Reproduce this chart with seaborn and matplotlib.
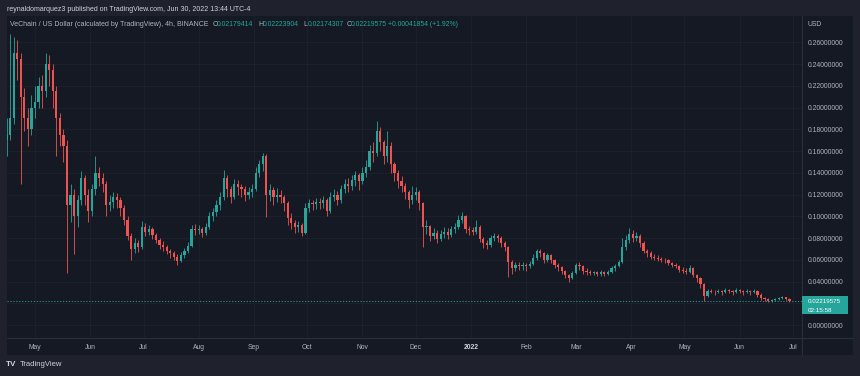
import numpy as np
import pandas as pd
import matplotlib
matplotlib.use("Agg")
import matplotlib.pyplot as plt
import matplotlib.dates as mdates
from matplotlib.patches import Rectangle
from matplotlib.lines import Line2D
import seaborn as sns

# ---------------- data (2-day candles) ----------------
start_date = "2021-04-15"
step_days = 2
first_open = 0.17
closes = [
    0.175, 0.19, 0.25, 0.245, 0.21, 0.19, 0.18, 0.2, 0.205, 0.22,
    0.215, 0.24, 0.235, 0.215, 0.19, 0.175, 0.165, 0.11, 0.12, 0.1,
    0.115, 0.135, 0.12, 0.105, 0.125, 0.14, 0.135, 0.13, 0.11, 0.113,
    0.118, 0.115, 0.108, 0.097, 0.082, 0.07, 0.075, 0.072, 0.09, 0.086,
    0.088, 0.083, 0.078, 0.074, 0.072, 0.068, 0.066, 0.063, 0.059, 0.064,
    0.068, 0.073, 0.088, 0.087, 0.088, 0.085, 0.09, 0.1, 0.104, 0.11,
    0.118, 0.135, 0.125, 0.118, 0.13, 0.127, 0.125, 0.12, 0.122, 0.125,
    0.14, 0.148, 0.155, 0.12, 0.124, 0.118, 0.12, 0.118, 0.112, 0.098,
    0.094, 0.09, 0.092, 0.085, 0.108, 0.112, 0.111, 0.113, 0.112, 0.115,
    0.105, 0.118, 0.12, 0.115, 0.125, 0.13, 0.128, 0.133, 0.138, 0.132,
    0.14, 0.145, 0.16, 0.158, 0.178, 0.168, 0.155, 0.165, 0.148, 0.14,
    0.132, 0.128, 0.122, 0.115, 0.12, 0.122, 0.112, 0.09, 0.091, 0.082,
    0.085, 0.079, 0.084, 0.086, 0.083, 0.088, 0.09, 0.097, 0.1, 0.088,
    0.087, 0.086, 0.09, 0.079, 0.075, 0.074, 0.08, 0.082, 0.08, 0.075,
    0.072, 0.058, 0.052, 0.055, 0.054, 0.055, 0.054, 0.056, 0.062, 0.068,
    0.066, 0.06, 0.064, 0.06, 0.055, 0.053, 0.05, 0.046, 0.043, 0.048,
    0.055, 0.054, 0.05, 0.049, 0.048, 0.0485, 0.047, 0.049, 0.047, 0.049,
    0.052, 0.054, 0.058, 0.072, 0.078, 0.084, 0.08, 0.082, 0.075, 0.068,
    0.066, 0.063, 0.062, 0.061, 0.06, 0.0595, 0.057, 0.055, 0.054, 0.051,
    0.05, 0.049, 0.052, 0.046, 0.043, 0.038, 0.027, 0.031, 0.0305, 0.03,
    0.031, 0.03, 0.032, 0.031, 0.03, 0.032, 0.031, 0.03, 0.031, 0.03,
    0.031, 0.028, 0.025, 0.024, 0.022, 0.023, 0.024, 0.025, 0.0255, 0.024,
    0.0222,
]
highs = [
    0.19, 0.268, 0.265, 0.262, 0.25, 0.218, 0.2, 0.212, 0.22, 0.228,
    0.23, 0.25, 0.248, 0.24, 0.22, 0.195, 0.18, 0.17, 0.13, 0.125,
    0.12, 0.142, 0.138, 0.125, 0.13, 0.155, 0.145, 0.14, 0.132, 0.12,
    0.122, 0.121, 0.118, 0.11, 0.1, 0.085, 0.08, 0.078, 0.096, 0.094,
    0.092, 0.09, 0.085, 0.08, 0.077, 0.074, 0.07, 0.068, 0.065, 0.067,
    0.071, 0.076, 0.092, 0.093, 0.092, 0.09, 0.094, 0.104, 0.108, 0.115,
    0.122, 0.143, 0.138, 0.128, 0.134, 0.133, 0.13, 0.128, 0.127, 0.13,
    0.145, 0.152, 0.158, 0.157, 0.13, 0.127, 0.126, 0.124, 0.12, 0.114,
    0.103, 0.097, 0.096, 0.094, 0.112, 0.116, 0.115, 0.117, 0.117, 0.119,
    0.117, 0.122, 0.125, 0.123, 0.129, 0.134, 0.135, 0.138, 0.142, 0.14,
    0.145, 0.152, 0.166, 0.168, 0.188, 0.182, 0.17, 0.178, 0.168, 0.15,
    0.143, 0.137, 0.131, 0.124, 0.128, 0.127, 0.124, 0.113, 0.097, 0.092,
    0.089, 0.087, 0.087, 0.09, 0.089, 0.091, 0.094, 0.101, 0.104, 0.101,
    0.091, 0.09, 0.097, 0.092, 0.081, 0.078, 0.083, 0.085, 0.084, 0.082,
    0.077, 0.073, 0.06, 0.058, 0.058, 0.058, 0.057, 0.059, 0.065, 0.07,
    0.07, 0.067, 0.066, 0.065, 0.061, 0.057, 0.054, 0.051, 0.047, 0.05,
    0.057, 0.058, 0.055, 0.052, 0.051, 0.05, 0.05, 0.051, 0.05, 0.051,
    0.054, 0.056, 0.06, 0.08, 0.083, 0.089, 0.087, 0.086, 0.084, 0.077,
    0.07, 0.068, 0.065, 0.064, 0.063, 0.062, 0.061, 0.058, 0.057, 0.055,
    0.053, 0.052, 0.055, 0.053, 0.047, 0.044, 0.039, 0.033, 0.033, 0.032,
    0.033, 0.032, 0.034, 0.033, 0.032, 0.034, 0.033, 0.032, 0.033, 0.032,
    0.033, 0.032, 0.029, 0.026, 0.025, 0.024, 0.025, 0.026, 0.027, 0.026,
    0.025,
]
lows = [
    0.155, 0.17, 0.185, 0.225, 0.13, 0.178, 0.165, 0.175, 0.19, 0.2,
    0.2, 0.21, 0.22, 0.2, 0.155, 0.165, 0.15, 0.048, 0.095, 0.065,
    0.09, 0.11, 0.11, 0.095, 0.1, 0.12, 0.128, 0.122, 0.1, 0.105,
    0.108, 0.108, 0.1, 0.092, 0.078, 0.06, 0.066, 0.067, 0.07, 0.082,
    0.083, 0.079, 0.075, 0.07, 0.068, 0.065, 0.062, 0.06, 0.055, 0.058,
    0.062, 0.066, 0.072, 0.083, 0.084, 0.081, 0.083, 0.088, 0.096, 0.1,
    0.106, 0.115, 0.118, 0.112, 0.116, 0.12, 0.118, 0.114, 0.116, 0.118,
    0.123, 0.136, 0.142, 0.099, 0.114, 0.11, 0.113, 0.112, 0.105, 0.092,
    0.088, 0.085, 0.086, 0.082, 0.084, 0.104, 0.106, 0.107, 0.107, 0.108,
    0.1, 0.103, 0.114, 0.11, 0.112, 0.121, 0.122, 0.124, 0.128, 0.124,
    0.13, 0.136, 0.143, 0.15, 0.155, 0.16, 0.148, 0.15, 0.14, 0.132,
    0.126, 0.122, 0.116, 0.108, 0.111, 0.115, 0.106, 0.072, 0.084, 0.077,
    0.079, 0.075, 0.077, 0.08, 0.079, 0.081, 0.085, 0.088, 0.094, 0.085,
    0.083, 0.083, 0.084, 0.076, 0.071, 0.07, 0.072, 0.077, 0.076, 0.072,
    0.068, 0.044, 0.047, 0.05, 0.051, 0.051, 0.05, 0.052, 0.055, 0.06,
    0.063, 0.057, 0.058, 0.057, 0.052, 0.05, 0.047, 0.043, 0.04, 0.042,
    0.047, 0.051, 0.047, 0.046, 0.046, 0.046, 0.045, 0.045, 0.045, 0.046,
    0.048, 0.05, 0.053, 0.057, 0.069, 0.075, 0.076, 0.077, 0.072, 0.066,
    0.063, 0.061, 0.06, 0.059, 0.058, 0.057, 0.055, 0.053, 0.052, 0.049,
    0.048, 0.047, 0.048, 0.044, 0.04, 0.034, 0.022, 0.026, 0.029, 0.028,
    0.029, 0.028, 0.029, 0.029, 0.028, 0.029, 0.029, 0.028, 0.029, 0.028,
    0.029, 0.026, 0.023, 0.022, 0.021, 0.021, 0.022, 0.023, 0.024, 0.023,
    0.0215,
]

month_ticks = ["2021-05-01", "2021-06-01", "2021-07-01", "2021-08-01", "2021-09-01",
               "2021-10-01", "2021-11-01", "2021-12-01", "2022-01-01", "2022-02-01",
               "2022-03-01", "2022-04-01", "2022-05-01", "2022-06-01", "2022-07-01"]
month_labels = ["May", "Jun", "Jul", "Aug", "Sep", "Oct", "Nov", "Dec", "2022",
                "Feb", "Mar", "Apr", "May", "Jun", "Jul"]
price_ticks = [0.00, 0.02, 0.04, 0.06, 0.08, 0.10, 0.12, 0.14, 0.16, 0.18,
               0.20, 0.22, 0.24, 0.26]
last_price = 0.02219575
countdown = "02:15:58"
header_title = "reynaldomarquez3 published on TradingView.com, Jun 30, 2022 13:44 UTC-4"
symbol_text = "VeChain / US Dollar (calculated by TradingView), 4h, BINANCE"
ohlc_keys = ["O", "H", "L", "C"]
ohlc_values = ["0.02179414", "0.02223904", "0.02174307", "0.02219575"]
change_text = "+0.00041854 (+1.92%)"

# ---------------- style ----------------
BG = "#151924"
OUTER = "#1f222d"
GRID = "#1c202b"
BORDER = "#2a2e39"
TXT = "#b2b5be"
UP = "#26a69a"
DOWN = "#ef5350"

sns.set_theme(style="dark", rc={"axes.facecolor": BG, "figure.facecolor": OUTER})
plt.rcParams["font.family"] = ["Liberation Sans", "DejaVu Sans"]

W, H = 860, 376
fig = plt.figure(figsize=(W / 100, H / 100), dpi=100)
fig.patch.set_facecolor(OUTER)

# dark chart panel (chart + price scale + time scale)
fig.add_artist(Rectangle((7 / W, 1 - 354.5 / H), (853 - 7) / W, (354.5 - 16) / H,
                         transform=fig.transFigure, facecolor=BG, edgecolor="none", zorder=0))

ax_l, ax_r, ax_t, ax_b = 7, 801.5, 16, 338
ax = fig.add_axes([ax_l / W, 1 - ax_b / H, (ax_r - ax_l) / W, (ax_b - ax_t) / H])
ax.set_facecolor(BG)

df = pd.DataFrame({
    "date": pd.date_range(start_date, periods=len(closes), freq=f"{step_days}D"),
    "close": closes, "high": highs, "low": lows,
})
df["open"] = [first_open] + closes[:-1]
df["x"] = mdates.date2num(df["date"])
df["dir"] = np.where(df["close"] >= df["open"], "up", "down")
cols = df["dir"].map({"up": UP, "down": DOWN}).tolist()

ax.vlines(df["x"], df["low"], df["high"], colors=cols, linewidth=0.6, zorder=3)
body_lo = np.minimum(df["open"], df["close"])
body_h = np.maximum(np.abs(df["close"] - df["open"]), 0.0006)
ax.bar(df["x"], body_h, bottom=body_lo, width=step_days * 0.62, color=cols,
       linewidth=0, zorder=4)

# axes limits mapping reference pixels
may1 = mdates.date2num(pd.Timestamp("2021-05-01"))
ppd = (793 - 35) / 426.0
ax.set_xlim(may1 - (35 - ax_l) / ppd, may1 + (ax_r - 35) / ppd)
ppv = (325 - 42.33) / 0.26
ax.set_ylim(-(ax_b - 325) / ppv, (325 - ax_t) / ppv)

# grid
ax.set_xticks(mdates.date2num(pd.to_datetime(month_ticks)))
ax.set_yticks(price_ticks)
ax.grid(True, color=GRID, linewidth=0.8, zorder=0)
for s in ["top", "left", "right", "bottom"]:
    ax.spines[s].set_visible(False)

fig.canvas.draw()
r = fig.canvas.get_renderer()


def fit_size(s, target_w, weight="normal"):
    t = fig.text(0, 0, s, fontsize=10, weight=weight)
    w = t.get_window_extent(renderer=r).width
    t.remove()
    return 10 * target_w / w


# y tick labels (right); the label hidden under the last-price tag is left blank
ysize = fit_size("0.26000000", 36)
ax.yaxis.tick_right()
ax.set_yticklabels(["" if abs(v - last_price) < 0.008 else f"{v:.8f}" for v in price_ticks])
ax.tick_params(axis="y", length=0, pad=(808 - ax_r) * 0.72, labelsize=ysize, labelcolor=TXT)

# x tick labels
ax.set_xticklabels(month_labels)
ax.tick_params(axis="x", length=0, pad=4.2, labelsize=ysize, labelcolor=TXT)
for lab in ax.get_xticklabels():
    if lab.get_text().isdigit():
        lab.set_color("#d1d4dc")
        lab.set_fontweight("bold")

# borders of price / time scales
fig.add_artist(Line2D([ax_l / W, 853 / W], [1 - ax_b / H] * 2, color=BORDER, lw=0.8,
                      transform=fig.transFigure, zorder=5))
fig.add_artist(Line2D([ax_r / W] * 2, [1 - 16 / H, 1 - 354.5 / H], color=BORDER, lw=0.8,
                      transform=fig.transFigure, zorder=5))

# last price dotted line + tag
ax.axhline(last_price, color=UP, lw=0.6, ls=(0, (1.5, 2)), zorder=2)
y_lp = ax_t + (ax.get_ylim()[1] - last_price) * ppv
fig.add_artist(Rectangle((802 / W, 1 - (y_lp + 13.5) / H), 46 / W, 18.5 / H,
                         transform=fig.transFigure, facecolor=UP, edgecolor="none", zorder=6))
tag_size = ysize * 0.92
fig.text(808 / W, 1 - (y_lp + 0.2) / H, f"{last_price:.8f}", color="white",
         fontsize=tag_size, va="center", ha="left", zorder=7)
fig.text(808 / W, 1 - (y_lp + 9.2) / H, countdown, color="white",
         fontsize=tag_size, va="center", ha="left", zorder=7)

# USD label
fig.text(808 / W, 1 - 24 / H, "USD", color=TXT, fontsize=ysize, va="center", ha="left")

# header
hsize = fit_size(header_title, 249 - 7)
fig.text(7 / W, 1 - 9.3 / H, header_title, color="#d1d4dc", fontsize=hsize, va="center")

ssize = fit_size(symbol_text, 208 - 10)
vsize = min(ssize, fit_size(ohlc_values[0], 36.5))
yh = 1 - 25 / H
fig.text(10 / W, yh, symbol_text, color=TXT, fontsize=ssize, va="center", zorder=8)
key_x = [212.5, 258.5, 303.5, 346.5]
val_x = [216.8, 262.8, 307.8, 350.8]
for k, v, kx, vx in zip(ohlc_keys, ohlc_values, key_x, val_x):
    fig.text(kx / W, yh, k, color=TXT, fontsize=vsize, va="center", zorder=8)
    fig.text(vx / W, yh, v, color=UP, fontsize=vsize, va="center", zorder=8)
fig.text(388.5 / W, yh, change_text, color=UP, fontsize=min(vsize, fit_size(change_text, 73)),
         va="center", zorder=8)

# footer logo
fig.text(6 / W, 1 - 365 / H, "TV", color="#d1d4dc", fontsize=ssize * 1.15,
         weight="heavy", va="center")
fig.text(20 / W, 1 - 365 / H, "TradingView", color="#d1d4dc",
         fontsize=fit_size("TradingView", 42), va="center")

fig.savefig("out.png", dpi=100, facecolor=OUTER)
